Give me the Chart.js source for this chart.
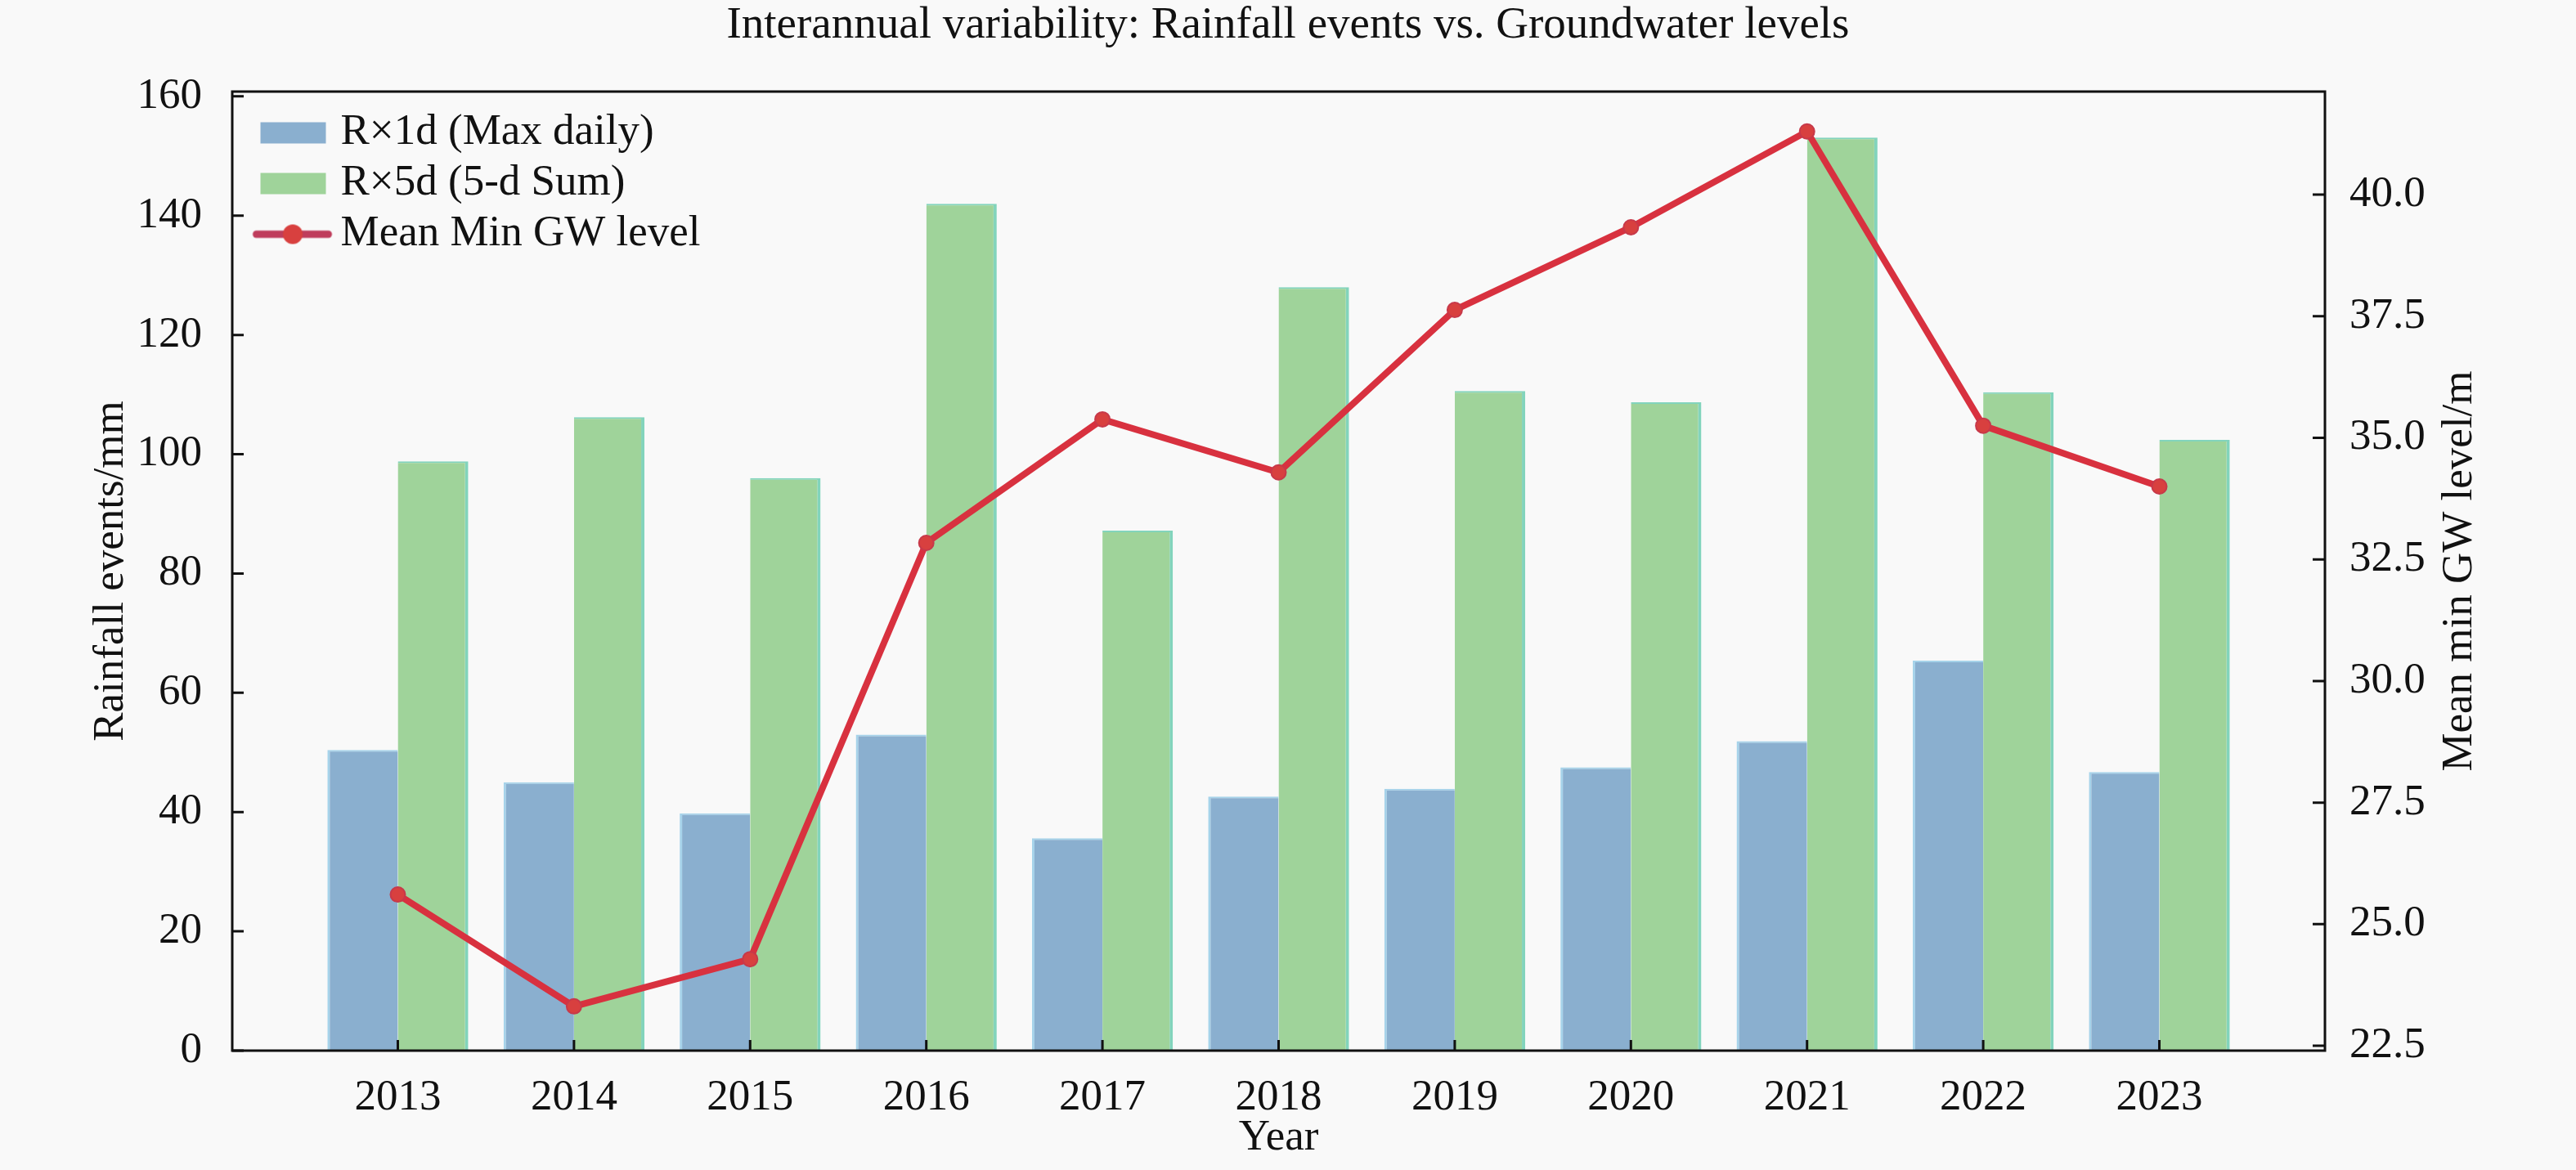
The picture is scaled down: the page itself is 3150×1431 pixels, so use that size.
<!DOCTYPE html>
<html lang="en">
<head>
  <meta charset="UTF-8">
  <title>Rainfall events vs. Groundwater levels</title>
  <script src="https://cdn.jsdelivr.net/npm/chart.js"></script>
  <style>
    * { margin: 0; padding: 0; box-sizing: border-box; }
    body { background: #f9f9f9; width: 3150px; height: 1431px; overflow: hidden; }
    .wrap { position: relative; width: 3150px; height: 1431px; }
  </style>
</head>
<body>
  <div class="wrap"><canvas id="chart"></canvas></div>

  <script>
    // data
    const years = [2013, 2014, 2015, 2016, 2017, 2018, 2019, 2020, 2021, 2022, 2023];
    const rx1d = [50.4, 45.0, 39.8, 53.0, 35.6, 42.6, 43.9, 47.5, 51.9, 65.4, 46.7];
    const rx5d = [98.8, 106.2, 96.0, 142.0, 87.2, 128.0, 110.6, 108.7, 153.1, 110.4, 102.4];
    const gwLevel = [25.61, 23.31, 24.28, 32.84, 35.38, 34.29, 37.63, 39.33, 41.3, 35.25, 34.0];
    const rainTicks = [0, 20, 40, 60, 80, 100, 120, 140, 160];
    const gwTicks = [22.5, 25.0, 27.5, 30.0, 32.5, 35.0, 37.5, 40.0];
    const seriesNames = ['R×1d (Max daily)', 'R×5d (5-d Sum)', 'Mean Min GW level'];
    const gwAxisTitle = 'Mean min GW level/m';

    const FONT = "'Liberation Serif', 'Times New Roman', serif";
    const INK = '#111111';
    const BLUE = '#8aafcf';
    const GREEN = '#9fd39a';
    const RED = '#d8313f';

    function pts(vals) {
      return years.map((y, i) => ({ x: y, y: vals[i] }));
    }

    // legend icons drawn on small canvases
    function icon(kind) {
      const c = document.createElement('canvas');
      c.width = 140; c.height = 40;
      const g = c.getContext('2d');
      if (kind === 'line') {
        g.strokeStyle = '#bf3d5c';
        g.lineWidth = 9;
        g.lineCap = 'round';
        g.beginPath(); g.moveTo(42, 20); g.lineTo(130, 20); g.stroke();
        g.fillStyle = '#d8403f';
        g.beginPath(); g.arc(86.5, 20, 12, 0, Math.PI * 2); g.fill();
      } else {
        g.fillStyle = kind === 'blue' ? BLUE : GREEN;
        g.fillRect(47, 7, 80, 26);
      }
      return c;
    }
    const icons = [icon('blue'), icon('green'), icon('line')];

    const bg = {
      id: 'bg',
      beforeDraw(chart) {
        const ctx = chart.ctx;
        ctx.save();
        ctx.fillStyle = '#f9f9f9';
        ctx.fillRect(0, 0, chart.width, chart.height);
        ctx.restore();
      }
    };

    // frame, inward tick marks and the right axis title (reads bottom to top)
    const frame = {
      id: 'frame',
      afterDraw(chart) {
        const { ctx, chartArea: a, scales } = chart;
        ctx.save();
        ctx.strokeStyle = INK;
        ctx.lineWidth = 3;
        ctx.beginPath();
        scales.y.ticks.forEach(t => {
          const p = scales.y.getPixelForValue(t.value);
          ctx.moveTo(a.left, p); ctx.lineTo(a.left + 14, p);
        });
        scales.y1.ticks.forEach(t => {
          const p = scales.y1.getPixelForValue(t.value);
          ctx.moveTo(a.right, p); ctx.lineTo(a.right - 15, p);
        });
        scales.x.ticks.forEach(t => {
          const p = scales.x.getPixelForValue(t.value);
          ctx.moveTo(p, a.bottom); ctx.lineTo(p, a.bottom - 13);
        });
        ctx.stroke();
        ctx.strokeRect(a.left, a.top, a.right - a.left, a.bottom - a.top);

        ctx.translate(scales.y1.right - 142, (a.top + a.bottom) / 2);
        ctx.rotate(-Math.PI / 2);
        ctx.fillStyle = INK;
        ctx.font = '53px ' + FONT;
        ctx.textAlign = 'center';
        ctx.textBaseline = 'middle';
        ctx.fillText(gwAxisTitle, 0, 0);
        ctx.restore();
      }
    };

    new Chart(document.getElementById('chart'), {
      type: 'bar',
      data: {
        datasets: [
          {
            label: seriesNames[0],
            data: pts(rx1d),
            backgroundColor: BLUE,
            borderColor: '#a6d3ea',
            borderWidth: { left: 3, top: 2, right: 0, bottom: 0 },
            yAxisID: 'y',
            order: 1
          },
          {
            label: seriesNames[1],
            data: pts(rx5d),
            backgroundColor: GREEN,
            borderColor: '#82d4bc',
            borderWidth: { left: 0, top: 2, right: 4, bottom: 0 },
            yAxisID: 'y',
            order: 1
          },
          {
            type: 'line',
            label: seriesNames[2],
            data: pts(gwLevel),
            borderColor: RED,
            borderWidth: 8,
            pointRadius: 9,
            pointBackgroundColor: '#d8403f',
            pointBorderColor: '#c7394a',
            pointBorderWidth: 2,
            tension: 0,
            yAxisID: 'y1',
            order: 0
          }
        ]
      },
      options: {
        responsive: true,
        maintainAspectRatio: false,
        animation: false,
        layout: { padding: 0 },
        datasets: {
          bar: { categoryPercentage: 0.8, barPercentage: 1.0 }
        },
        plugins: {
          tooltip: { enabled: false },
          title: {
            display: true,
            text: 'Interannual variability: Rainfall events vs. Groundwater levels',
            color: INK,
            font: { family: FONT, size: 55, weight: 'normal', lineHeight: 1 },
            padding: { top: 4, bottom: 53 }
          },
          legend: {
            position: 'chartArea',
            align: 'start',
            // the vertical legend starts at the canvas top, the empty title pushes it into the plot
            title: { display: true, text: '', font: { size: 1, lineHeight: 1 }, padding: { top: 126, bottom: 0 } },
            labels: {
              usePointStyle: true,
              pointStyleWidth: 97,
              padding: 9,
              color: INK,
              font: { family: FONT, size: 53 },
              generateLabels: () => seriesNames.map((n, i) => ({
                text: n,
                pointStyle: icons[i],
                fillStyle: 'transparent',
                strokeStyle: 'transparent',
                fontColor: INK,
                lineWidth: 0,
                hidden: false,
                datasetIndex: i
              }))
            }
          }
        },
        scales: {
          x: {
            type: 'linear',
            min: 2012.06,
            max: 2023.94,
            offset: false,
            grid: { display: false, offset: false },
            border: { display: false },
            afterBuildTicks: s => { s.ticks = years.map(v => ({ value: v })); },
            afterFit: s => { s.height = 146; },
            ticks: {
              color: INK,
              font: { family: FONT, size: 53 },
              padding: 18,
              callback: v => String(v)
            },
            title: {
              display: true,
              text: 'Year',
              color: INK,
              font: { family: FONT, size: 53 },
              padding: { top: 0, bottom: 7 }
            }
          },
          y: {
            position: 'left',
            min: 0,
            max: 160.8,
            grid: { display: false },
            border: { display: false },
            afterBuildTicks: s => { s.ticks = rainTicks.map(v => ({ value: v })); },
            afterFit: s => { s.width = 284; },
            ticks: {
              color: INK,
              font: { family: FONT, size: 53 },
              padding: 29
            },
            title: {
              display: true,
              text: 'Rainfall events/mm',
              color: INK,
              font: { family: FONT, size: 53 },
              padding: { top: 104, bottom: 0 }
            }
          },
          y1: {
            position: 'right',
            min: 22.4,
            max: 42.12,
            grid: { display: false },
            border: { display: false },
            afterBuildTicks: s => { s.ticks = gwTicks.map(v => ({ value: v })); },
            afterFit: s => { s.width = 307; },
            ticks: {
              color: INK,
              font: { family: FONT, size: 53 },
              padding: 22,
              callback: v => Number(v).toFixed(1)
            }
          }
        }
      },
      plugins: [bg, frame]
    });
  </script>
</body>
</html>
